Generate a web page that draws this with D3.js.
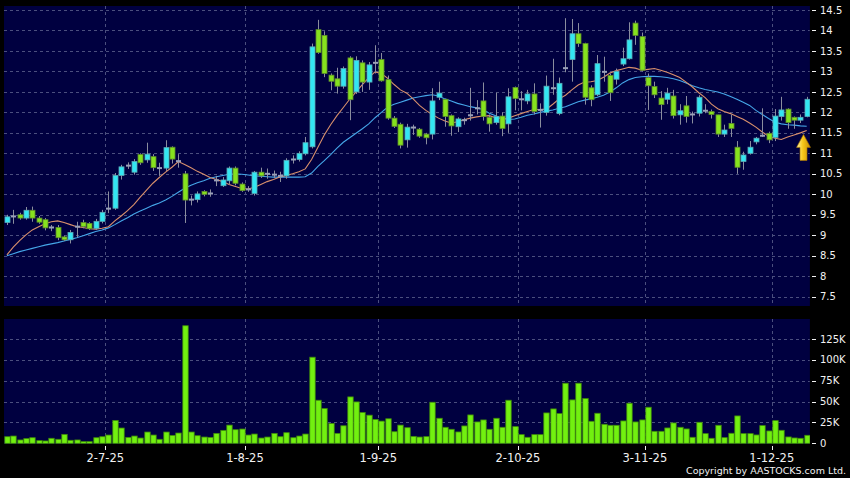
<!DOCTYPE html>
<html><head><meta charset="utf-8">
<script src="https://cdn.jsdelivr.net/npm/d3@7"></script>
<style>html,body{margin:0;padding:0;background:#000;}svg{display:block;}</style>
</head><body>
<script>
// ---- DATA ----
const tickIndex  = [16, 38, 59, 81, 101, 121];
const tickLabels = ["2-7-25", "1-8-25", "1-9-25", "2-10-25", "3-11-25", "1-12-25"];
const priceTicks = [7.5, 8, 8.5, 9, 9.5, 10, 10.5, 11, 11.5, 12, 12.5, 13, 13.5, 14, 14.5];
const volumeTicks = [0, 25000, 50000, 75000, 100000, 125000];
const volumeTickLabels = ["0", "25K", "50K", "75K", "100K", "125K"];

const open = [9.31,9.46,9.50,9.42,9.61,9.42,9.38,9.19,9.19,8.96,8.89,9.21,9.31,9.29,9.17,9.34,9.65,9.66,10.46,10.70,
10.54,10.97,10.84,10.92,10.64,10.64,11.15,10.81,10.50,9.87,9.87,10.07,10.02,10.34,10.21,10.33,10.64,10.25,10.12,10.02,
10.54,10.50,10.48,10.45,10.45,10.85,10.85,10.99,11.16,14.02,13.88,12.91,12.82,12.64,13.33,12.50,13.21,12.74,13.21,13.29,
12.80,11.86,11.71,11.33,11.63,11.59,11.47,11.47,12.37,12.32,11.92,11.65,11.81,11.93,12.10,12.28,11.88,11.75,11.91,11.72,
12.61,12.32,12.28,12.45,12.06,12.00,12.59,11.97,13.08,13.29,13.92,13.68,12.60,12.43,12.99,12.90,12.81,13.18,13.31,14.18,
13.85,12.85,12.63,12.35,12.32,12.40,11.94,12.16,11.95,11.98,12.04,12.02,11.94,11.47,11.73,11.15,10.80,11.00,11.28,11.43,
11.49,11.39,11.90,12.08,11.88,11.81,11.90];
const high = [9.50,9.62,9.55,9.69,9.70,9.47,9.42,9.25,9.25,8.99,9.13,9.33,9.38,9.32,9.40,9.62,10.07,10.52,10.72,10.78,
10.86,11.00,11.26,10.98,10.77,11.32,11.17,10.98,10.57,9.97,10.07,10.10,10.12,10.45,10.42,10.68,10.68,10.29,10.20,10.57,
10.65,10.63,10.58,10.55,10.88,10.95,11.05,11.40,13.68,14.26,13.98,12.95,13.09,13.12,13.37,13.37,13.27,13.23,13.64,13.45,
12.90,11.91,11.75,11.72,11.70,11.62,11.50,12.59,12.75,12.33,11.95,11.88,11.87,12.60,12.30,12.73,11.95,12.48,12.00,12.59,
12.63,12.52,12.55,12.71,12.22,12.90,13.31,12.85,14.30,14.28,14.18,13.70,12.66,13.40,13.36,12.95,13.07,13.58,14.20,14.24,
13.95,12.95,12.75,12.52,12.60,12.55,12.20,12.40,12.02,12.42,12.20,12.07,11.94,11.70,11.95,11.30,11.04,11.30,11.40,12.10,
11.53,12.08,12.38,12.10,11.90,11.95,12.38];
const low = [9.25,9.28,9.38,9.38,9.33,9.28,9.12,9.10,8.88,8.86,8.80,8.95,9.17,9.13,9.13,9.29,9.54,9.62,10.36,10.62,
10.48,10.72,10.77,10.57,10.45,10.57,10.75,10.65,9.30,9.73,9.80,9.95,9.94,10.20,10.18,10.25,10.22,10.06,10.06,9.97,
10.40,10.38,10.40,10.30,10.38,10.75,10.80,10.95,11.12,13.43,12.86,12.54,12.46,12.58,11.81,12.45,12.50,12.55,12.95,12.75,
11.82,11.62,11.12,11.14,11.45,11.38,11.22,11.34,12.30,11.65,11.43,11.52,11.70,11.80,11.95,11.80,11.53,11.70,11.42,11.50,
12.05,12.05,12.20,11.95,11.63,11.92,12.43,11.93,12.98,12.75,13.60,12.19,12.15,12.40,12.75,12.28,12.68,13.13,13.29,13.65,
13.00,12.06,12.35,11.82,12.20,11.85,11.70,11.75,11.73,11.90,11.98,11.85,11.40,11.40,11.40,10.50,10.60,10.97,11.22,11.40,
11.25,11.30,11.80,11.60,11.60,11.74,11.88];
const close = [9.45,9.46,9.42,9.61,9.42,9.32,9.18,9.19,8.94,8.89,9.07,9.21,9.21,9.16,9.34,9.56,9.65,10.46,10.67,10.70,
10.80,10.77,10.98,10.65,10.64,11.14,10.86,10.81,9.86,9.87,10.01,10.00,10.02,10.34,10.35,10.64,10.27,10.09,10.12,10.54,
10.45,10.50,10.48,10.45,10.83,10.85,11.00,11.26,13.60,13.46,12.95,12.76,12.64,13.07,12.31,13.27,12.74,13.16,13.21,12.77,
11.86,11.66,11.20,11.64,11.63,11.42,11.38,12.28,12.47,11.90,11.67,11.84,11.81,11.93,12.10,11.90,11.72,11.90,11.61,12.38,
12.34,12.32,12.45,12.02,12.06,12.64,12.59,12.71,13.08,13.92,13.68,12.37,12.31,13.19,12.99,12.48,13.00,13.31,13.77,13.88,
13.03,12.65,12.43,12.19,12.47,11.92,12.04,11.90,11.95,12.37,12.04,11.95,11.47,11.57,11.61,10.66,10.96,11.15,11.37,11.43,
11.33,11.91,12.06,11.75,11.81,11.88,12.32];
const volume = [7900,8700,4000,5600,6700,3200,2800,6000,4800,10700,3600,4000,2000,2000,6700,7900,9900,27400,18300,7100,
8700,6300,13500,9900,4800,13500,9500,12300,140900,13500,9100,7500,7100,11900,15500,21800,16300,17100,9900,11100,
6300,7500,11900,7900,12700,6700,8700,11100,103200,51600,41700,23800,11900,21000,55600,49600,36900,33700,28600,26600,
29400,13900,21800,18700,8300,7500,8000,49200,30000,19200,16800,13600,20800,34000,25600,28000,16800,30000,19200,51600,
20000,10400,7200,10400,10400,36400,41200,35600,72000,52000,72000,53600,26400,36000,22800,21600,21600,26800,48000,25600,
28000,43200,14400,14400,18400,24400,19200,17200,7200,25200,11600,6000,21600,6800,12000,32800,11600,11600,10000,21200,
14800,27200,15600,7600,6400,6000,9600];
const maShort = [8.52,8.71,8.87,9.01,9.13,9.21,9.28,9.33,9.35,9.31,9.26,9.21,9.19,9.16,9.15,9.17,9.21,9.35,9.47,9.60,
9.75,9.93,10.10,10.27,10.41,10.54,10.66,10.80,10.73,10.65,10.56,10.49,10.41,10.36,10.31,10.24,10.19,10.14,10.13,10.17,
10.24,10.31,10.36,10.42,10.46,10.50,10.55,10.62,10.85,11.15,11.45,11.70,11.92,12.12,12.32,12.50,12.68,12.85,12.99,12.95,
12.83,12.68,12.55,12.47,12.33,12.17,12.05,11.95,11.86,11.79,11.74,11.77,11.82,11.86,11.89,11.91,11.92,11.87,11.84,11.86,
11.92,11.97,12.02,12.07,12.07,12.08,12.20,12.33,12.42,12.55,12.67,12.74,12.75,12.78,12.86,12.96,13.02,13.06,13.10,13.08,
13.03,13.05,13.07,13.03,12.98,12.92,12.85,12.74,12.62,12.48,12.36,12.20,12.09,12.02,11.97,11.90,11.83,11.74,11.64,11.52,
11.42,11.37,11.34,11.40,11.45,11.50,11.56];
const maLong = [8.50,8.55,8.60,8.64,8.68,8.72,8.76,8.79,8.82,8.86,8.90,8.94,8.99,9.04,9.09,9.13,9.18,9.26,9.35,9.43,
9.52,9.59,9.66,9.73,9.79,9.86,9.95,10.05,10.15,10.22,10.28,10.33,10.39,10.43,10.46,10.49,10.50,10.49,10.47,10.45,
10.44,10.43,10.42,10.42,10.42,10.42,10.42,10.43,10.52,10.68,10.82,10.97,11.13,11.27,11.38,11.49,11.60,11.72,11.87,12.00,
12.13,12.20,12.25,12.30,12.35,12.38,12.41,12.43,12.40,12.33,12.28,12.22,12.18,12.14,12.11,12.07,11.98,11.92,11.85,11.83,
11.84,11.88,11.93,11.96,12.00,12.03,12.06,12.10,12.14,12.20,12.26,12.30,12.33,12.37,12.42,12.50,12.60,12.72,12.80,12.85,
12.87,12.88,12.88,12.87,12.85,12.82,12.78,12.72,12.65,12.60,12.56,12.53,12.50,12.45,12.39,12.32,12.25,12.17,12.05,11.95,
11.85,11.76,11.72,11.70,11.69,11.67,11.66];

// ---- LAYOUT ----
const W = 850, H = 478;
const plotL = 3.73, plotR = 809.87;
const mainTop = 6, mainBot = 306;
const volTop = 319, volBot = 444;

const svg = d3.select("body").append("svg").attr("width", W).attr("height", H)
  .style("font-family", "'DejaVu Sans', Verdana, sans-serif");
svg.append("rect").attr("width", W).attr("height", H).attr("fill", "#000");

const idx = d3.range(open.length);
const x = d3.scaleBand().domain(idx).range([plotL, plotR]).paddingInner(0.22).paddingOuter(0.11);
const step = x.step();
const bw = x.bandwidth();
const cx = i => x(i) + bw / 2;
const slotLeft = i => x(i) - (step - bw) / 2;

const y = d3.scaleLinear().domain([7.5, 14.5]).range([296.7, 10]);
const yv = d3.scaleLinear().domain([0, 125000]).range([443.3, 339]);

const navy = "#000040";
const gridCol = "#4b4f7e";

// panels
svg.append("rect").attr("x", 4).attr("y", mainTop).attr("width", plotR - 4).attr("height", mainBot - mainTop).attr("fill", navy);
svg.append("rect").attr("x", 4).attr("y", volTop).attr("width", plotR - 4).attr("height", volBot - volTop).attr("fill", navy);

const defs = svg.append("defs");
defs.append("clipPath").attr("id", "clipMain").append("rect")
  .attr("x", 4).attr("y", mainTop).attr("width", plotR - 4).attr("height", mainBot - mainTop);
defs.append("clipPath").attr("id", "clipVol").append("rect")
  .attr("x", 4).attr("y", volTop).attr("width", plotR - 4).attr("height", volBot - volTop);

// grids
const gMain = svg.append("g").attr("clip-path", "url(#clipMain)");
const gVol = svg.append("g").attr("clip-path", "url(#clipVol)");

gMain.selectAll("line.hg").data(priceTicks).join("line")
  .attr("x1", 4).attr("x2", plotR).attr("y1", d => Math.round(y(d)) + 0.5).attr("y2", d => Math.round(y(d)) + 0.5)
  .attr("stroke", gridCol).attr("stroke-dasharray", "3,3");
gMain.selectAll("line.vg").data(tickIndex).join("line")
  .attr("x1", d => Math.round(slotLeft(d)) + 0.5).attr("x2", d => Math.round(slotLeft(d)) + 0.5)
  .attr("y1", mainTop).attr("y2", mainBot)
  .attr("stroke", gridCol).attr("stroke-dasharray", "3,3");

gVol.selectAll("line.hg").data(volumeTicks.slice(1)).join("line")
  .attr("x1", 4).attr("x2", plotR).attr("y1", d => Math.round(yv(d)) + 0.5).attr("y2", d => Math.round(yv(d)) + 0.5)
  .attr("stroke", gridCol).attr("stroke-dasharray", "3,3");
gVol.selectAll("line.vg").data(tickIndex).join("line")
  .attr("x1", d => Math.round(slotLeft(d)) + 0.5).attr("x2", d => Math.round(slotLeft(d)) + 0.5)
  .attr("y1", volTop).attr("y2", volBot)
  .attr("stroke", gridCol).attr("stroke-dasharray", "3,3");

// moving averages
const lineShort = d3.line().x((d, i) => cx(i)).y(d => y(d));
gMain.append("path").datum(maLong).attr("d", lineShort).attr("fill", "none")
  .attr("stroke", "#45a6e8").attr("stroke-width", 1.1);
gMain.append("path").datum(maShort).attr("d", lineShort).attr("fill", "none")
  .attr("stroke", "#d9906c").attr("stroke-width", 1.1);

// candles
const upFill = "#33e6f2", upStroke = "#5aa9b4";
const dnFill = "#86e21e", dnStroke = "#5e8c2a";
const dojiCol = "#9aa0b8";
const candles = gMain.selectAll("g.c").data(idx).join("g");
candles.append("line")
  .attr("x1", i => Math.round(cx(i)) + 0.5).attr("x2", i => Math.round(cx(i)) + 0.5)
  .attr("y1", i => y(high[i])).attr("y2", i => y(low[i]))
  .attr("stroke", "#8a8d9e").attr("stroke-width", 1);
candles.append("rect")
  .attr("x", i => Math.round(cx(i)) + 0.5 - 2.5)
  .attr("width", 5)
  .attr("y", i => {
    if (open[i] === close[i]) return y(open[i]) - 1;
    return y(Math.max(open[i], close[i]));
  })
  .attr("height", i => {
    if (open[i] === close[i]) return 2;
    return Math.max(2, Math.abs(y(open[i]) - y(close[i])));
  })
  .attr("fill", i => open[i] === close[i] ? dojiCol : (close[i] > open[i] ? upFill : dnFill))
  .attr("stroke", i => open[i] === close[i] ? "none" : (close[i] > open[i] ? upStroke : dnStroke))
  .attr("stroke-width", 0.8);

// volume bars
gVol.selectAll("rect.v").data(idx).join("rect")
  .attr("x", i => Math.round(cx(i)) + 0.5 - 2.7)
  .attr("width", 5.4)
  .attr("y", i => yv(volume[i]))
  .attr("height", i => yv(0) - yv(volume[i]))
  .attr("fill", "#72f010").attr("stroke", "#3f8a0a").attr("stroke-width", 0.8);

// arrow annotation on the last bars
const grad = defs.append("linearGradient").attr("id", "arrowGrad").attr("x1", "0").attr("x2", "1").attr("y1", "0").attr("y2", "0");
grad.append("stop").attr("offset", "0%").attr("stop-color", "#fff3a0");
grad.append("stop").attr("offset", "45%").attr("stop-color", "#f7c71a");
grad.append("stop").attr("offset", "100%").attr("stop-color", "#c98b00");
const last = open.length - 1;
const ax = (cx(last - 1) + cx(last)) / 2, ay = y(maShort[last]) + 4;
svg.append("path")
  .attr("d", `M${ax},${ay} L${ax + 7},${ay + 13} L${ax + 3.5},${ay + 13} L${ax + 3.5},${ay + 26} L${ax - 3.5},${ay + 26} L${ax - 3.5},${ay + 13} L${ax - 7},${ay + 13} Z`)
  .attr("fill", "url(#arrowGrad)").attr("stroke", "#a87400").attr("stroke-width", 0.6);

// right axis labels (price)
const txtCol = "#f2f2f2";
const pAxis = svg.append("g");
pAxis.selectAll("line").data(priceTicks).join("line")
  .attr("x1", 812).attr("x2", 816).attr("y1", d => Math.round(y(d)) + 0.5).attr("y2", d => Math.round(y(d)) + 0.5)
  .attr("stroke", txtCol);
pAxis.selectAll("text").data(priceTicks).join("text")
  .attr("x", 820).attr("y", d => y(d)).attr("dy", "0.36em")
  .attr("fill", txtCol).attr("font-size", 10).text(d => d3.format("")(d));

// volume axis labels
const vAxis = svg.append("g");
vAxis.selectAll("line").data(volumeTicks).join("line")
  .attr("x1", 812).attr("x2", 816).attr("y1", d => Math.round(yv(d)) + 0.5).attr("y2", d => Math.round(yv(d)) + 0.5)
  .attr("stroke", txtCol);
vAxis.selectAll("text").data(volumeTicks).join("text")
  .attr("x", 820).attr("y", d => yv(d)).attr("dy", "0.36em")
  .attr("fill", txtCol).attr("font-size", 10).text((d, i) => volumeTickLabels[i]);

// date axis
const dAxis = svg.append("g");
dAxis.selectAll("line").data(tickIndex).join("line")
  .attr("x1", d => Math.round(slotLeft(d)) + 0.5).attr("x2", d => Math.round(slotLeft(d)) + 0.5)
  .attr("y1", 446).attr("y2", 450).attr("stroke", txtCol);
dAxis.selectAll("text").data(tickIndex).join("text")
  .attr("x", d => slotLeft(d)).attr("y", 458).attr("dy", "0.36em").attr("text-anchor", "middle")
  .attr("fill", txtCol).attr("font-size", 11.5).text((d, i) => tickLabels[i]);

svg.append("text").attr("x", 846).attr("y", 471).attr("dy", "0.36em").attr("text-anchor", "end")
  .attr("fill", txtCol).attr("font-size", 9.5).text("Copyright by AASTOCKS.com Ltd.");
</script>
</body></html>
